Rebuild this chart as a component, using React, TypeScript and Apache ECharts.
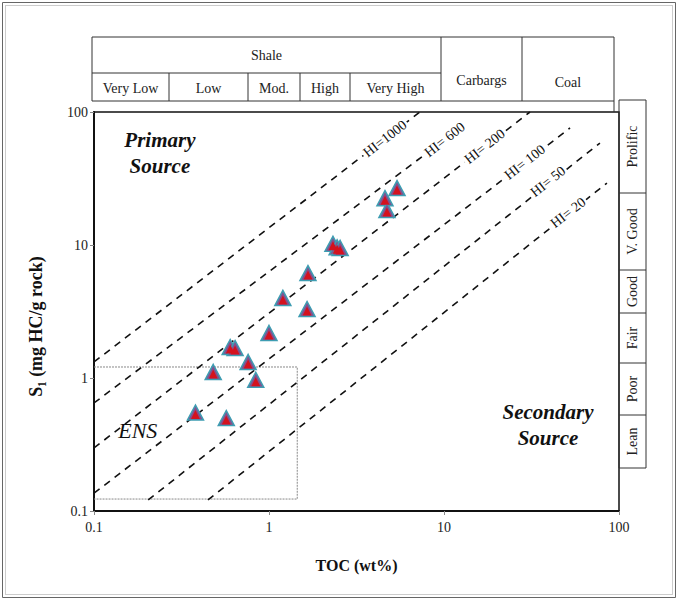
import React, { useEffect, useRef } from "react";
import * as echarts from "echarts";

// ---- data ----
const TOC = [5.39, 4.6, 4.72, 2.32, 2.45, 2.55, 1.67, 1.2, 1.65, 1.0, 0.6, 0.64, 0.76, 0.48, 0.84, 0.38, 0.57];
const S2 = [26.8, 22.5, 18.3, 10.2, 9.6, 9.5, 6.15, 4.0, 3.3, 2.18, 1.71, 1.68, 1.32, 1.11, 0.97, 0.55, 0.5];

const HI_NAMES = ["HI=1000", "HI= 600", "HI= 200", "HI= 100", "HI= 50", "HI= 20"];
const HI_START_TOC = [0.1, 0.1, 0.1, 0.1, 0.204, 0.448];
const HI_START_S = [1.32, 0.649, 0.298, 0.136, 0.121, 0.121];
const HI_END_TOC = [7.29, 13.5, 31, 52.5, 77.8, 85.3];
const HI_END_S = [100, 82.6, 100, 75.8, 58.4, 29.2];
const HI_LABEL_TOC = [4.6, 10.1, 17.1, 29, 39.3, 51.2];
const HI_LABEL_S = [63, 62, 55, 42, 30, 17.5];

const ENS_TOC = [0.1, 1.45, 1.45, 0.1];
const ENS_S = [1.21, 1.21, 0.123, 0.123];

const X_TICKS = [0.1, 1, 10, 100];
const Y_TICKS = [0.1, 1, 10, 100];

const SHALE_CLASSES = ["Very Low", "Low", "Mod.", "High", "Very High"];
const RICHNESS_CLASSES = ["Prolific", "V. Good", "Good", "Fair", "Poor", "Lean"];

const SERIF = '"Liberation Serif", "Times New Roman", serif';

export default function App() {
  const ref = useRef<HTMLDivElement>(null);

  useEffect(() => {
    if (!ref.current) return;
    const chart = echarts.init(ref.current, null, { renderer: "svg" });

    const hiSeries = HI_NAMES.map((n, i) => ({
      type: "line",
      name: n,
      data: [
        [HI_START_TOC[i], HI_START_S[i]],
        [HI_END_TOC[i], HI_END_S[i]],
      ],
      symbol: "none",
      lineStyle: { color: "#111", width: 1.6, type: [7, 6] },
      silent: true,
      z: 2,
    }));

    // header table geometry (pixels)
    const hTop = 37, hMid = 73, hBot = 101, hLeft = 92, shaleRight = 441, carbRight = 522, hRight = 614;
    const subX = [hLeft, 169, 248, 300, 350, shaleRight];
    const rLeft = 619, rRight = 646;
    const rY = [100, 193, 270, 313, 363, 415, 468];
    const stroke = "#333";
    const txt = (text: string, x: number, y: number, size = 14, rot = 0) => ({
      type: "text",
      x,
      y,
      rotation: rot,
      style: { text, fontSize: size, fontFamily: SERIF, fill: "#222", align: "center", verticalAlign: "middle" },
    });
    const ln = (x1: number, y1: number, x2: number, y2: number) => ({
      type: "line",
      shape: { x1, y1, x2, y2 },
      style: { stroke, lineWidth: 1 },
    });

    const graphic: any[] = [
      { type: "rect", shape: { x: 2.5, y: 2.5, width: 673, height: 595 }, style: { fill: "none", stroke: "#666", lineWidth: 1 } },
      { type: "rect", shape: { x: 5.5, y: 5.5, width: 667, height: 589 }, style: { fill: "none", stroke: "#999", lineWidth: 1, lineDash: [1, 1] } },
      { type: "rect", shape: { x: hLeft, y: hTop, width: hRight - hLeft, height: hBot - hTop }, style: { fill: "none", stroke, lineWidth: 1 } },
      ln(hLeft, hMid, shaleRight, hMid),
      ln(shaleRight, hTop, shaleRight, hBot),
      ln(carbRight, hTop, carbRight, hBot),
      ...subX.slice(1, -1).map((x) => ln(x, hMid, x, hBot)),
      txt("Shale", (hLeft + shaleRight) / 2, 55),
      ...SHALE_CLASSES.map((c, i) => txt(c, (subX[i] + subX[i + 1]) / 2, 88)),
      txt("Carbargs", (shaleRight + carbRight) / 2, 80),
      txt("Coal", (carbRight + hRight) / 2, 82),
      ln(hRight, hBot, hRight, 112),
      { type: "rect", shape: { x: rLeft, y: rY[0], width: rRight - rLeft, height: rY[rY.length - 1] - rY[0] }, style: { fill: "none", stroke, lineWidth: 1 } },
      ...rY.slice(1, -1).map((y) => ln(rLeft, y, rRight, y)),
      ...RICHNESS_CLASSES.map((c, i) => txt(c, (rLeft + rRight) / 2, (rY[i] + rY[i + 1]) / 2, 14, Math.PI / 2)),
    ];

    const annot = (text: string, x: number, y: number, style: any) => ({
      type: "scatter",
      data: [{ value: [x, y], name: text }],
      symbolSize: 1,
      itemStyle: { color: "transparent", opacity: 1 },
      silent: true,
      z: 4,
      label: { show: true, position: "inside", formatter: "{b}", fontFamily: SERIF, color: "#111", textBorderWidth: 0, ...style },
    });

    chart.setOption({
      animation: false,
      backgroundColor: "#fff",
      grid: { left: 94, right: 59, top: 112, bottom: 89, show: true, borderColor: "#111", borderWidth: 1.5, containLabel: false },
      xAxis: {
        type: "log",
        logBase: 10,
        min: X_TICKS[0],
        max: X_TICKS[X_TICKS.length - 1],
        name: "TOC (wt%)",
        nameLocation: "middle",
        nameGap: 46,
        nameTextStyle: { fontFamily: SERIF, fontSize: 16, fontWeight: "bold", color: "#111" },
        axisLine: { lineStyle: { color: "#111", width: 2 } },
        axisTick: { show: true, length: 4, lineStyle: { color: "#888" } },
        axisLabel: { fontFamily: SERIF, fontSize: 14, color: "#222", margin: 9, formatter: (v: number) => String(v) },
        splitLine: { show: false },
      },
      yAxis: {
        type: "log",
        logBase: 10,
        min: Y_TICKS[0],
        max: Y_TICKS[Y_TICKS.length - 1],
        name: "S\u2081 (mg HC/g rock)",
        nameLocation: "middle",
        nameGap: 49,
        nameRotate: 90,
        nameTextStyle: { fontFamily: SERIF, fontSize: 18, fontWeight: "bold", color: "#111", padding: [0, 30, 0, 0] },
        axisLine: { lineStyle: { color: "#111", width: 2 } },
        axisTick: { show: true, length: 4, lineStyle: { color: "#888" } },
        axisLabel: { fontFamily: SERIF, fontSize: 14, color: "#222", margin: 6, formatter: (v: number) => String(v) },
        splitLine: { show: false },
      },
      graphic,
      series: [
        ...hiSeries,
        {
          type: "line",
          name: "ENS",
          data: ENS_TOC.map((t, i) => [t, ENS_S[i]]),
          symbol: "none",
          lineStyle: { color: "#888", width: 1, type: [2, 1] },
          silent: true,
          z: 1,
        },
        {
          type: "scatter",
          name: "HI labels",
          data: HI_NAMES.map((n, i) => ({ value: [HI_LABEL_TOC[i], HI_LABEL_S[i]], name: n })),
          symbolSize: 1,
          itemStyle: { color: "transparent", opacity: 1 },
          silent: true,
          z: 3,
          label: {
            show: true,
            position: "inside",
            formatter: "{b}",
            rotate: 38,
            fontFamily: SERIF,
            fontSize: 14,
            color: "#111",
            textBorderWidth: 0,
            backgroundColor: "#fff",
            padding: [0, 2],
          },
        },
        annot("Primary\nSource", 0.238, 49.2, { fontSize: 21, fontWeight: "bold", fontStyle: "italic", lineHeight: 26 }),
        annot("Secondary\nSource", 39.3, 0.444, { fontSize: 21, fontWeight: "bold", fontStyle: "italic", lineHeight: 26 }),
        annot("ENS", 0.178, 0.406, { fontSize: 22, fontStyle: "italic" }),
        {
          type: "scatter",
          name: "Samples",
          data: TOC.map((t, i) => [t, S2[i]]),
          symbol: "triangle",
          symbolSize: [16, 15],
          itemStyle: { color: "#84508f", borderColor: "#3e9db2", borderWidth: 1.5, opacity: 1 },
          z: 5,
        },
        {
          type: "scatter",
          name: "Samples core",
          data: TOC.map((t, i) => [t, S2[i]]),
          symbol: "triangle",
          symbolSize: [9, 9],
          symbolOffset: [0, 2],
          itemStyle: { color: "#d4121e", opacity: 1 },
          z: 6,
        },
      ],
    } as any);

    return () => chart.dispose();
  }, []);

  return <div ref={ref} style={{ position: "fixed", left: 0, top: 0, width: 678, height: 600 }} />;
}
